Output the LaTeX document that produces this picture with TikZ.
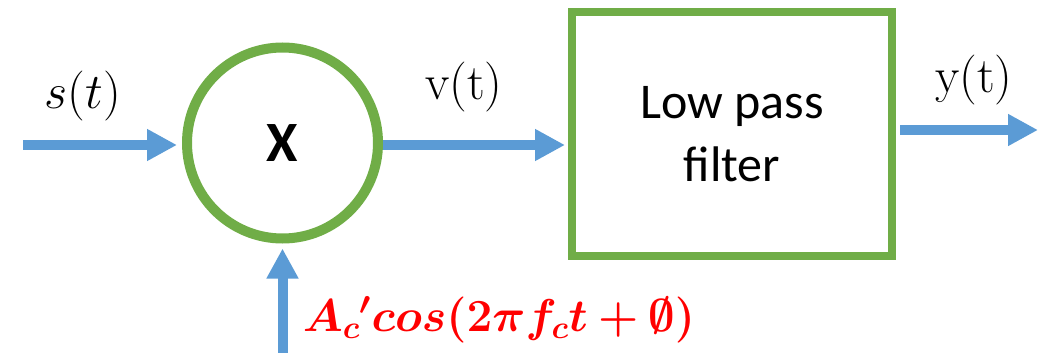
\RequirePackage{fix-cm}
\documentclass[tikz,border=0pt]{standalone}
\usepackage{bm}
\usepackage{fontspec}
\newfontfamily\calfont{Carlito}
\usetikzlibrary{arrows.meta}
\definecolor{verde}{RGB}{112,173,71}
\definecolor{azul}{RGB}{91,155,213}
\begin{document}
\begin{tikzpicture}[x=1pt, y=-1pt,
  bloque/.style={draw=verde, line width=8pt, inner sep=0pt},
  flecha/.style={draw=azul, line width=10pt, -{Triangle[length=30pt,width=30pt]}},
  etiq/.style={font=\fontsize{50}{60}\selectfont}]
  \useasboundingbox (0,0) rectangle (1050,353);
  % Bloques
  \node[bloque, circle, line width=10pt, minimum size=191pt,
        font=\calfont\bfseries\fontsize{57}{66}\selectfont] (m) at (282.5,143) {X};
  \node[bloque, minimum width=320pt, minimum height=244pt, align=center,
        font=\calfont\fontsize{50}{63}\selectfont] (f) at (732,134) {Low pass\\filter};
  % Entradas y salida
  \coordinate (e) at (23,145);
  \coordinate (o) at (282.5,353);
  \coordinate (s) at (1038,130);
  \draw[flecha, shorten >=5pt] (e) -- (e -| m.west);
  \draw[flecha, shorten >=3pt] (m.east |- e) -- (e -| f.west);
  \draw[flecha, shorten <=4pt] (f.east |- s) -- (s);
  \draw[flecha, shorten >=5pt] (o) -- (m.south);
  % Etiquetas
  \node[etiq] (ls) at (83,96) {$s(t)$};
  \node[etiq] (lv) at (464,87) {$\mathrm{v}(\mathrm{t})$};
  \node[etiq] (ly) at (974,80) {$\mathrm{y}(\mathrm{t})$};
  \node[font=\fontsize{46}{55}\selectfont, text=red] (lc) at (499,320) {$\bm{A_c{}'cos(2\pi f_c t+\emptyset)}$};
\end{tikzpicture}
\end{document}
